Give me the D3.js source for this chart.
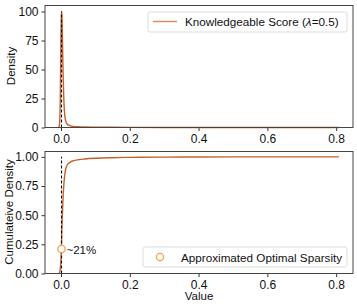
<!DOCTYPE html>
<html>
<head>
<meta charset="utf-8">
<script src="https://cdn.jsdelivr.net/npm/d3@7"></script>
<style>
body { margin: 0; background: #fff; }
text { font-family: "Liberation Sans", Arial, sans-serif; fill: #111; }
</style>
</head>
<body>
<svg id="chart" width="357" height="304"></svg>
<script>
// values
var xValues = [-0.006, -0.004, -0.002, 0.0, 0.001, 0.002, 0.003, 0.004, 0.006, 0.008, 0.010, 0.012, 0.015, 0.018, 0.022, 0.027, 0.035, 0.05, 0.07, 0.1, 0.15, 0.2, 0.3, 0.4, 0.5, 0.6, 0.7, 0.808];
var densityValues = [0, 4, 25, 80, 96, 100, 95, 80, 48, 26, 14, 8, 4.5, 3, 2, 1.4, 0.9, 0.6, 0.4, 0.3, 0.2, 0.12, 0.06, 0.03, 0.02, 0.01, 0.01, 0];
var cdfValues = [0, 0.01, 0.04, 0.13, 0.21, 0.31, 0.41, 0.5, 0.65, 0.75, 0.82, 0.87, 0.91, 0.93, 0.945, 0.955, 0.965, 0.975, 0.982, 0.988, 0.993, 0.996, 0.998, 0.999, 0.9995, 1, 1, 1];
var xTicks = [0.0, 0.2, 0.4, 0.6, 0.8];
var densityTicks = [0, 25, 50, 75, 100];
var cdfTicks = [0, 0.25, 0.5, 0.75, 1.0];
var optimalX = 0.0015;  // dashed line / marker
var optimalY = 0.21;    // "~21%"
var lineColor = "#c6612d";

var svg = d3.select("#chart");
var left = 45, right = 353;

var x = d3.scaleLinear().domain([-0.0465, 0.849]).range([left, right]);

function panel(top, bottom, yDomain, yTicks, fmt) {
    var y = d3.scaleLinear().domain(yDomain).range([bottom, top]);
    var g = svg.append("g");
    g.append("g") //x axis
        .attr("transform", `translate(0, ${bottom})`)
        .call(d3.axisBottom(x).tickValues(xTicks).tickFormat(d3.format(".1f")).tickSize(3.5).tickPadding(3).tickSizeOuter(0))
        .call(a => a.select(".domain").remove());
    g.append("g") //y axis
        .attr("transform", `translate(${left}, 0)`)
        .call(d3.axisLeft(y).tickValues(yTicks).tickFormat(fmt).tickSize(3.5).tickPadding(3).tickSizeOuter(0))
        .call(a => a.select(".domain").remove());
    g.selectAll(".tick text").attr("font-size", 12).style("font-family", "Liberation Sans, Arial, sans-serif");
    g.selectAll(".tick line").attr("stroke", "#333");
    return {g: g, y: y, top: top, bottom: bottom};
}

function frame(p) {
    p.g.append("rect")
        .attr("x", left).attr("y", p.top)
        .attr("width", right - left).attr("height", p.bottom - p.top)
        .attr("fill", "none").attr("stroke", "#444").attr("stroke-width", 1);
}

// top: density
var p1 = panel(5.5, 127.5, [0, 105.2], densityTicks, d3.format("d"));
p1.g.append("path")
    .datum(xValues.map((v, i) => [v, densityValues[i]]))
    .attr("fill", "none").attr("stroke", lineColor).attr("stroke-width", 1.4)
    .attr("d", d3.line().x(d => x(d[0])).y(d => p1.y(d[1])).curve(d3.curveMonotoneX));
p1.g.append("line")
    .attr("x1", x(optimalX)).attr("x2", x(optimalX))
    .attr("y1", p1.y(0)).attr("y2", p1.y(d3.max(densityValues)))
    .attr("stroke", "#111").attr("stroke-width", 1.1).attr("stroke-dasharray", "3,2");
frame(p1);

// top legend
var lg1 = p1.g.append("g");
lg1.append("rect").attr("x", 148).attr("y", 12).attr("width", 199).attr("height", 20).attr("rx", 2)
    .attr("fill", "#fff").attr("stroke", "#ddd");
lg1.append("line").attr("x1", 153).attr("x2", 177).attr("y1", 21.5).attr("y2", 21.5)
    .attr("stroke", "#d98f66").attr("stroke-width", 1.5);
lg1.append("text").attr("x", 185).attr("y", 26).attr("font-size", 11.7)
    .text("Knowledgeable Score (")
    .append("tspan").attr("font-style", "italic").text("λ")
    .select(function () { return this.parentNode; })
    .append("tspan").text("=0.5)");

svg.append("text")
    .attr("transform", `translate(15, 66) rotate(-90)`)
    .attr("text-anchor", "middle").attr("font-size", 11.5)
    .text("Density");

// bottom: cumulative
var p2 = panel(151.5, 273.5, [0, 1.046], cdfTicks, d3.format(".2f"));
p2.g.append("path")
    .datum(xValues.map((v, i) => [v, cdfValues[i]]))
    .attr("fill", "none").attr("stroke", lineColor).attr("stroke-width", 1.4)
    .attr("d", d3.line().x(d => x(d[0])).y(d => p2.y(d[1])).curve(d3.curveMonotoneX));
p2.g.append("line")
    .attr("x1", x(optimalX)).attr("x2", x(optimalX))
    .attr("y1", p2.y(0)).attr("y2", p2.y(1))
    .attr("stroke", "#111").attr("stroke-width", 1.1).attr("stroke-dasharray", "3,2");
p2.g.append("circle")
    .attr("cx", x(optimalX)).attr("cy", p2.y(optimalY)).attr("r", 3.6)
    .attr("fill", "#fff").attr("stroke", "#f5a04c").attr("stroke-width", 1.3);
p2.g.append("text")
    .attr("x", x(optimalX) + 5).attr("y", p2.y(optimalY) + 4.5)
    .attr("font-size", 11.5).text("~21%");
frame(p2);

// bottom legend
var lg2 = p2.g.append("g");
lg2.append("rect").attr("x", 143).attr("y", 247).attr("width", 204).attr("height", 20).attr("rx", 2)
    .attr("fill", "#fff").attr("stroke", "#ddd");
lg2.append("circle").attr("cx", 160).attr("cy", 257).attr("r", 3.6)
    .attr("fill", "#fff").attr("stroke", "#f5a04c").attr("stroke-width", 1.3);
lg2.append("text").attr("x", 181).attr("y", 261.5).attr("font-size", 11.7)
    .text("Approximated Optimal Sparsity");

svg.append("text")
    .attr("transform", `translate(13, 212) rotate(-90)`)
    .attr("text-anchor", "middle").attr("font-size", 11.5)
    .text("Cumulateive Density");

svg.append("text")
    .attr("x", 199).attr("y", 300)
    .attr("text-anchor", "middle").attr("font-size", 11.5)
    .text("Value");
</script>
</body>
</html>
